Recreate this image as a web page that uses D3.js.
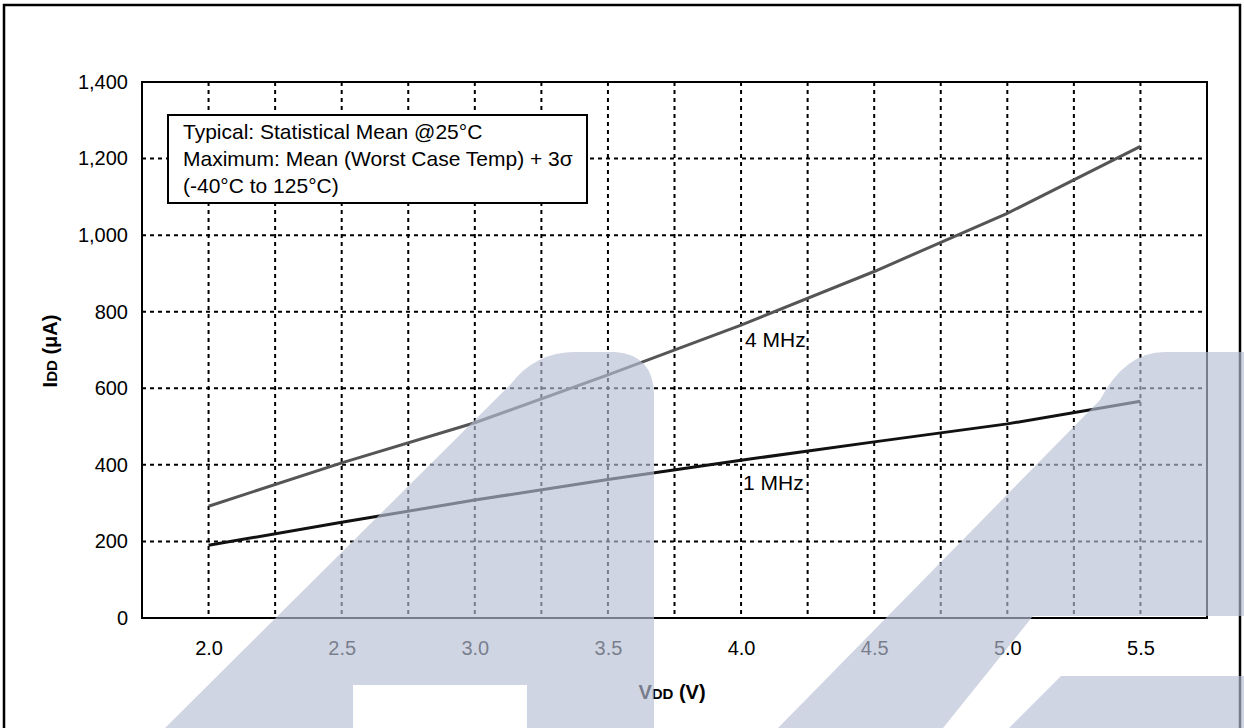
<!DOCTYPE html>
<html>
<head>
<meta charset="utf-8">
<script src="https://cdn.jsdelivr.net/npm/d3@7"></script>
<style>
  html, body { margin: 0; padding: 0; background: #fff; }
  svg text { font-family: "Liberation Sans", Arial, sans-serif; }
</style>
</head>
<body>
<svg id="chart" width="1244" height="728"></svg>
<script>
// ---- data ----
const vdd = [2.0, 2.5, 3.0, 3.5, 4.0, 4.5, 5.0, 5.5];
const idd4MHz = [292, 405, 510, 635, 765, 905, 1057, 1232];
const idd1MHz = [190, 250, 308, 362, 412, 460, 507, 566];
const xTickLabels = ["2.0", "2.5", "3.0", "3.5", "4.0", "4.5", "5.0", "5.5"];
const xTicks = [2.0, 2.5, 3.0, 3.5, 4.0, 4.5, 5.0, 5.5];
const xGrid = [2.0, 2.25, 2.5, 2.75, 3.0, 3.25, 3.5, 3.75, 4.0, 4.25, 4.5, 4.75, 5.0, 5.25, 5.5];
const yTicks = [0, 200, 400, 600, 800, 1000, 1200, 1400];
const legendLines = ["Typical: Statistical Mean @25°C", "Maximum: Mean (Worst Case Temp) + 3σ", "(-40°C to 125°C)"];
const seriesLabels = ["4 MHz", "1 MHz"];

(function () {
const svg = d3.select("#chart");
const pL = 142, pR = 1207, pT = 82, pB = 618;

const x = d3.scaleLinear().domain([1.75, 5.75]).range([pL, pR]);
const y = d3.scaleLinear().domain([0, 1400]).range([pB, pT]);

// outer frame
svg.append("rect").attr("x", 4).attr("y", 5).attr("width", 1236).attr("height", 740)
  .attr("fill", "none").attr("stroke", "#000").attr("stroke-width", 2.5);

// grid
const grid = svg.append("g");
grid.selectAll("line.v").data(xGrid).enter().append("line").attr("class", "v")
  .attr("x1", d => x(d)).attr("x2", d => x(d)).attr("y1", pT).attr("y2", pB)
  .attr("stroke", "#000").attr("stroke-width", 2).attr("stroke-dasharray", "4,4");
grid.selectAll("line.h").data(yTicks.slice(1, -1)).enter().append("line").attr("class", "h")
  .attr("x1", pL).attr("x2", pR).attr("y1", d => y(d)).attr("y2", d => y(d))
  .attr("stroke", "#000").attr("stroke-width", 2).attr("stroke-dasharray", "4,4");

// axes (labels via d3 axes)
const yAxis = svg.append("g").attr("transform", `translate(${pL},0)`)
  .call(d3.axisLeft(y).tickValues(yTicks).tickSize(0).tickPadding(14).tickFormat(d3.format(",")));
yAxis.select(".domain").remove();
yAxis.selectAll("text").attr("font-size", 20).attr("fill", "#000")
  .attr("font-family", "Liberation Sans, Arial, sans-serif");

const xAxis = svg.append("g").attr("transform", `translate(0,${pB})`)
  .call(d3.axisBottom(x).tickValues(xTicks).tickSize(0).tickPadding(23)
    .tickFormat((d, i) => xTickLabels[i]));
xAxis.select(".domain").remove();
xAxis.selectAll("text").attr("font-size", 20).attr("fill", "#000")
  .attr("font-family", "Liberation Sans, Arial, sans-serif");

// plot frame
svg.append("rect").attr("x", pL).attr("y", pT).attr("width", pR - pL).attr("height", pB - pT)
  .attr("fill", "none").attr("stroke", "#000").attr("stroke-width", 2);

// series
const line = d3.line().x(d => x(d[0])).y(d => y(d[1]));
svg.append("path").datum(vdd.map((v, i) => [v, idd4MHz[i]])).attr("d", line)
  .attr("fill", "none").attr("stroke", "#555").attr("stroke-width", 3);
svg.append("path").datum(vdd.map((v, i) => [v, idd1MHz[i]])).attr("d", line)
  .attr("fill", "none").attr("stroke", "#111").attr("stroke-width", 3);

// series labels
svg.append("text").attr("x", x(4.0) + 4).attr("y", y(765) + 22).attr("font-size", 21).text(seriesLabels[0]);
svg.append("text").attr("x", x(4.0) + 2).attr("y", y(412) + 30).attr("font-size", 21).text(seriesLabels[1]);

// legend box
const lg = svg.append("g");
lg.append("rect").attr("x", 168).attr("y", 115).attr("width", 419).attr("height", 88)
  .attr("fill", "#fff").attr("stroke", "#000").attr("stroke-width", 2);
legendLines.forEach((t, i) => {
  lg.append("text").attr("x", 183).attr("y", 139 + i * 27).attr("font-size", 21).text(t);
});

// axis titles
const yt = svg.append("text").attr("transform", "translate(57,351) rotate(-90)")
  .attr("text-anchor", "middle").attr("font-weight", "bold").attr("font-size", 20);
yt.append("tspan").text("I");
yt.append("tspan").attr("font-size", 15).text("DD");
yt.append("tspan").text(" (μA)");

const xt = svg.append("text").attr("x", 672).attr("y", 699)
  .attr("text-anchor", "middle").attr("font-weight", "bold").attr("font-size", 20);
xt.append("tspan").text("V");
xt.append("tspan").attr("font-size", 15).text("DD");
xt.append("tspan").text(" (V)");

// watermark (decorative, semi-transparent)
const wm = svg.append("g").attr("fill", "rgb(183,191,212)").attr("fill-opacity", 0.655);
wm.append("path").attr("d",
  "M165,728 L510,385 Q535,352 575,352 L615,352 Q654,355 654,395 L654,728 L527,728 L527,685 L353,685 L353,728 Z");
wm.append("path").attr("d",
  "M778,728 L1100,400 Q1125,352 1165,352 L1244,352 L1244,616 L1033,616 L943,728 Z");
wm.append("path").attr("d", "M1061,676 L1244,676 L1244,728 L1009,728 Z");
})();
</script>
</body>
</html>
